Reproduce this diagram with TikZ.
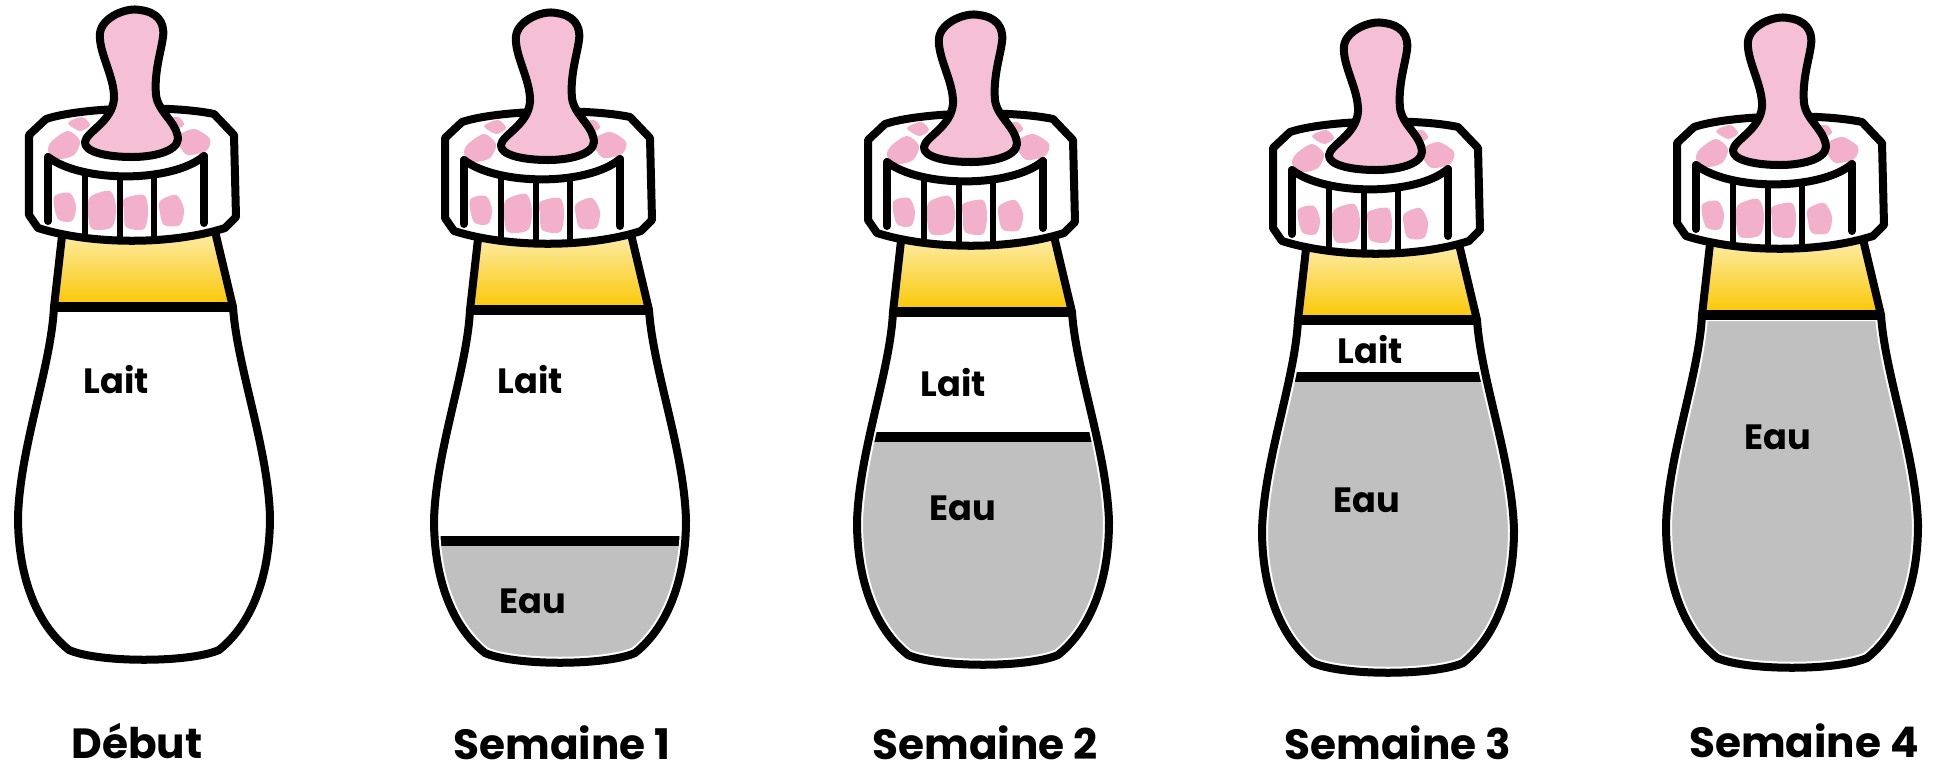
\documentclass[tikz,border=0pt]{standalone}
\usepackage{fontspec}
\setmainfont{Poppins}

\definecolor{capYellow}{RGB}{250,199,0}
\definecolor{teatPink}{RGB}{242,176,202}
\definecolor{waterGray}{RGB}{192,192,192}

% Bottle body, local frame: x from the bottle axis, y downwards from the neck line
\newcommand\bodypath{(-90,0) .. controls (-93,60) and (-124,140) .. (-126,210)
  .. controls (-126,265) and (-110,315) .. (-75,343)
  .. controls (-45,356) and (45,356) .. (75,343)
  .. controls (110,315) and (126,265) .. (126,210)
  .. controls (124,140) and (93,60) .. (89,0) -- cycle}
% Screw cap, relative to the cap axis
\newcommand\cappath{(-103,-172) -- (-86,-188) .. controls (-50,-200) and (40,-202) .. (82,-193)
  -- (102,-172) -- (104,-90) -- (93,-79) .. controls (40,-62) and (-40,-62) .. (-94,-79)
  -- (-103,-92) -- cycle}
% Teat
\newcommand\teatpath{(-32,-274) .. controls (-30,-290) and (-5,-300) .. (8,-297)
  .. controls (25,-295) and (33,-285) .. (31,-270)
  .. controls (29,-255) and (22,-235) .. (24,-212)
  .. controls (26,-195) and (45,-185) .. (46,-168)
  .. controls (45,-155) and (20,-150) .. (0,-150)
  .. controls (-25,-150) and (-48,-155) .. (-47,-165)
  .. controls (-46,-175) and (-20,-185) .. (-18,-208)
  .. controls (-17,-230) and (-34,-255) .. (-32,-274) -- cycle}

% #1 = axis x, #2 = neck line y, #3 = water level (local y)
\newcommand\babybottle[3]{%
\begin{scope}[shift={(#1,#2)}]
  \fill[white] \bodypath;
  \begin{scope}
    \clip \bodypath;
    \fill[waterGray] (-200,#3) rectangle (200,420);
    \draw[level] (-200,#3) -- (200,#3);
  \end{scope}
  \draw[white, line width=0.12cm] \bodypath;
  \draw[outline] \bodypath;
  % neck with milk
  \shade[top color=capYellow!30!white, middle color=capYellow, bottom color=capYellow]
    (-81,-80) -- (-90,0) -- (89,0) -- (70,-80) -- cycle;
  \draw[outline] (-81,-80) -- (-90,0) (70,-80) -- (89,0);
  \draw[level] (-90,0) -- (89,0);
  % cap
  \begin{scope}[shift={(-12,0)}]
    \fill[white] \cappath;
    \begin{scope}
      \clip \cappath;
      \fill[blot] plot[smooth cycle] coordinates {(-80,-166) (-64,-176) (-52,-166) (-58,-152) (-74,-148) (-84,-156)};
      \fill[blot] plot[smooth cycle] coordinates {(-64,-184) (-50,-190) (-42,-182) (-52,-176)};
      \fill[blot] plot[smooth cycle] coordinates {(44,-170) (62,-178) (78,-168) (74,-156) (56,-152) (48,-160)};
      \fill[blot] plot[smooth cycle] coordinates {(32,-186) (46,-190) (52,-182) (40,-177)};
      \fill[blot] plot[smooth cycle] coordinates {(-42,-110) (-22,-116) (-16,-100) (-20,-80) (-40,-78) (-44,-94)};
      \fill[blot] plot[smooth cycle] coordinates {(-8,-108) (12,-112) (16,-96) (12,-78) (-6,-80) (-8,-96)};
      \fill[blot] plot[smooth cycle] coordinates {(28,-106) (44,-112) (52,-98) (48,-82) (32,-82) (28,-94)};
      \fill[blot] plot[smooth cycle] coordinates {(-78,-110) (-62,-114) (-56,-100) (-60,-86) (-74,-88)};
      \draw[rib] (-47,-137) -- (-47,-55) (-12,-131) -- (-12,-55) (22,-131) -- (22,-55);
    \end{scope}
    \draw[outline] (-84,-150) .. controls (-50,-124) and (40,-124) .. (72,-151);
    \draw[outline] (-84,-150) -- (-84,-86) (72,-151) -- (72,-84);
    \draw[outline] \cappath;
    \fill[teatPink!80!white] \teatpath;
    \draw[outline] \teatpath;
  \end{scope}
\end{scope}}

\begin{document}
\begin{tikzpicture}[x=0.01cm, y=-0.01cm,
  outline/.style={line width=0.08cm, line join=round, line cap=round},
  level/.style={line width=0.1cm},
  rib/.style={line width=0.065cm},
  blot/.style={fill=teatPink},
  lbl/.style={font=\fontsize{12}{14}\selectfont\bfseries, anchor=base, inner sep=0pt},
  tag/.style={font=\fontsize{10}{12}\selectfont\bfseries, inner sep=0pt}]
  \useasboundingbox (0,0) rectangle (1936,769);
  \fill[white] (0,0) rectangle (1936,769);

  \babybottle{144}{307}{400}
  \babybottle{560}{310}{231}
  \babybottle{983}{312}{125}
  \babybottle{1388}{320}{57}
  \babybottle{1792}{315}{0}

  \node[tag] (lait0) at (116,380) {Lait};
  \node[tag] (lait1) at (530,380) {Lait};
  \node[tag] (eau1) at (533,601) {Eau};
  \node[tag] (lait2) at (953,383) {Lait};
  \node[tag] (eau2) at (963,508) {Eau};
  \node[tag] (lait3) at (1370,350) {Lait};
  \node[tag] (eau3) at (1367,500) {Eau};
  \node[tag] (eau4) at (1778,437) {Eau};

  \node[lbl] (week0) at (137,758) {Début};
  \node[lbl] (week1) at (562,759) {Semaine 1};
  \node[lbl] (week2) at (985,759) {Semaine 2};
  \node[lbl] (week3) at (1398,759) {Semaine 3};
  \node[lbl] (week4) at (1804,757) {Semaine 4};
\end{tikzpicture}
\end{document}
